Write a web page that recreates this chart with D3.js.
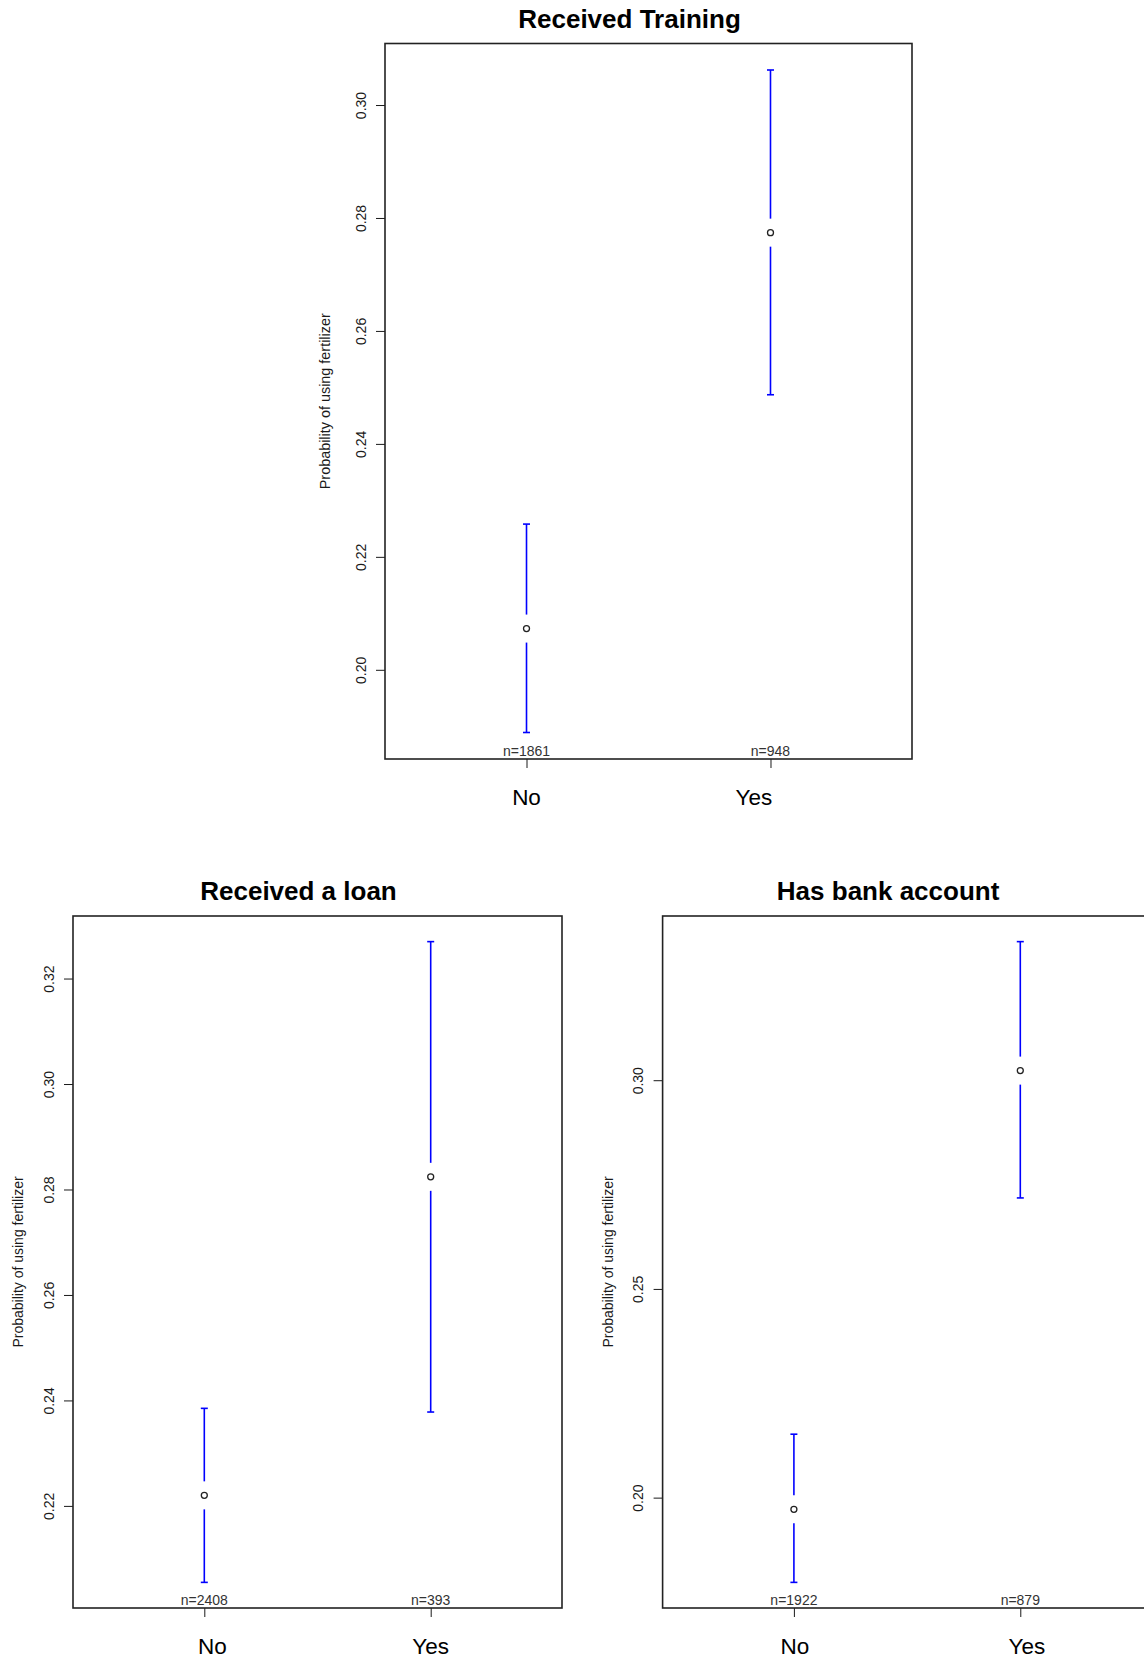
<!DOCTYPE html>
<html><head><meta charset="utf-8">
<script src="https://cdn.jsdelivr.net/npm/d3@7"></script>
<style>body{margin:0;background:#fff} svg{display:block;font-family:"Liberation Sans",Arial,sans-serif}</style>
</head><body>
<svg id="chart" width="1144" height="1662"></svg>
<script>
const categories = ["No", "Yes"];
const panelTitles = ["Received Training", "Received a loan", "Has bank account"];
const yAxisTitle = "Probability of using fertilizer";

const trainingEstimate = [0.2073, 0.2774];
const trainingLower = [0.1889, 0.2487];
const trainingUpper = [0.2258, 0.3062];
const trainingN = [1861, 948];
const trainingTicks = [0.20, 0.22, 0.24, 0.26, 0.28, 0.30];

const loanEstimate = [0.2220, 0.2824];
const loanLower = [0.2055, 0.2378];
const loanUpper = [0.2385, 0.3270];
const loanN = [2408, 393];
const loanTicks = [0.22, 0.24, 0.26, 0.28, 0.30, 0.32];

const bankEstimate = [0.1972, 0.3023];
const bankLower = [0.1797, 0.2718];
const bankUpper = [0.2152, 0.3332];
const bankN = [1922, 879];
const bankTicks = [0.20, 0.25, 0.30];

const panels = [
  {title: panelTitles[0], est: trainingEstimate, lo: trainingLower, hi: trainingUpper, n: trainingN, ticks: trainingTicks},
  {title: panelTitles[1], est: loanEstimate, lo: loanLower, hi: loanUpper, n: loanN, ticks: loanTicks},
  {title: panelTitles[2], est: bankEstimate, lo: bankLower, hi: bankUpper, n: bankN, ticks: bankTicks}
];

// layout (pixels) kept separate from data
const layouts = [
  {left: 385, right: 912, top: 43.5, bottom: 759, ylabOff: 60, ylabSize: 14.4, labelShift: [0, -16.6]},
  {left: 73, right: 562, top: 916, bottom: 1608, ylabOff: 55, ylabSize: 14, labelShift: [8, 0]},
  {left: 662.6, right: 1151.6, top: 916, bottom: 1608, ylabOff: 55, ylabSize: 14, labelShift: [1, 6.6]}
];

const svg = d3.select("#chart");
const ink = "#1a1a1a";

panels.forEach((p, k) => {
  const L = layouts[k];
  const lo = d3.min(p.lo), hi = d3.max(p.hi), r = hi - lo;
  const y = d3.scaleLinear().domain([lo - 0.04 * r, hi + 0.04 * r]).range([L.bottom, L.top]);
  const x = d3.scaleLinear().domain([0.42, 2.58]).range([L.left, L.right]);
  const g = svg.append("g");

  // y axis
  const ya = g.append("g").attr("transform", `translate(${L.left},0)`)
    .call(d3.axisLeft(y).tickValues(p.ticks).tickSize(9).tickFormat(d3.format(".2f")));
  ya.select(".domain").remove();
  ya.selectAll(".tick line").attr("stroke", ink).attr("stroke-width", 1);
  ya.selectAll(".tick text")
    .attr("transform", "rotate(-90)")
    .attr("x", 0).attr("y", -19.5).attr("dy", null)
    .attr("text-anchor", "middle")
    .attr("fill", ink)
    .style("font-size", "14px").style("font-family", "'Liberation Sans', Arial, sans-serif");

  // x axis ticks
  const xa = g.append("g").attr("transform", `translate(0,${L.bottom})`)
    .call(d3.axisBottom(x).tickValues(categories.map((c, i) => i + 1)).tickSize(9).tickFormat(""));
  xa.select(".domain").remove();
  xa.selectAll(".tick line").attr("stroke", ink).attr("stroke-width", 1);

  // x labels
  g.selectAll(".xlab").data(categories).enter().append("text")
    .attr("x", (d, i) => x(i + 1) + L.labelShift[i])
    .attr("y", L.bottom + 45.5)
    .attr("text-anchor", "middle")
    .style("font-size", "22.5px").attr("fill", "#000")
    .text(d => d);

  // box
  g.append("rect").attr("x", L.left).attr("y", L.top)
    .attr("width", L.right - L.left).attr("height", L.bottom - L.top)
    .attr("fill", "none").attr("stroke", "#222").attr("stroke-width", 1.6);

  // title
  g.append("text").attr("x", (L.left + L.right) / 2 - 19).attr("y", L.top - 16)
    .attr("text-anchor", "middle").style("font-size", "26px").style("font-weight", "bold")
    .attr("fill", "#000").text(p.title);

  // y axis title
  const ycx = L.left - L.ylabOff, ycy = (L.top + L.bottom) / 2;
  g.append("text").attr("transform", `translate(${ycx + 5},${ycy}) rotate(-90)`)
    .attr("text-anchor", "middle").style("font-size", L.ylabSize + "px").attr("fill", ink)
    .text(yAxisTitle);

  // error bars
  const gap = 14, cap = 3.5;
  const bars = g.selectAll(".bar").data(categories).enter().append("g");
  bars.append("line")
    .attr("x1", (d, i) => x(i + 1)).attr("x2", (d, i) => x(i + 1))
    .attr("y1", (d, i) => y(p.hi[i])).attr("y2", (d, i) => y(p.est[i]) - gap)
    .attr("stroke", "#0000ff").attr("stroke-width", 1.6);
  bars.append("line")
    .attr("x1", (d, i) => x(i + 1)).attr("x2", (d, i) => x(i + 1))
    .attr("y1", (d, i) => y(p.est[i]) + gap).attr("y2", (d, i) => y(p.lo[i]))
    .attr("stroke", "#0000ff").attr("stroke-width", 1.6);
  bars.append("line")
    .attr("x1", (d, i) => x(i + 1) - cap).attr("x2", (d, i) => x(i + 1) + cap)
    .attr("y1", (d, i) => y(p.hi[i])).attr("y2", (d, i) => y(p.hi[i]))
    .attr("stroke", "#0000ff").attr("stroke-width", 1.6);
  bars.append("line")
    .attr("x1", (d, i) => x(i + 1) - cap).attr("x2", (d, i) => x(i + 1) + cap)
    .attr("y1", (d, i) => y(p.lo[i])).attr("y2", (d, i) => y(p.lo[i]))
    .attr("stroke", "#0000ff").attr("stroke-width", 1.6);
  bars.append("circle")
    .attr("cx", (d, i) => x(i + 1)).attr("cy", (d, i) => y(p.est[i])).attr("r", 3)
    .attr("fill", "none").attr("stroke", "#222").attr("stroke-width", 1.3);

  // n labels
  g.selectAll(".nlab").data(p.n).enter().append("text")
    .attr("x", (d, i) => x(i + 1)).attr("y", L.bottom - 3)
    .attr("text-anchor", "middle").style("font-size", "14px").attr("fill", "#333")
    .text(d => "n=" + d);
});
</script>
</body></html>
